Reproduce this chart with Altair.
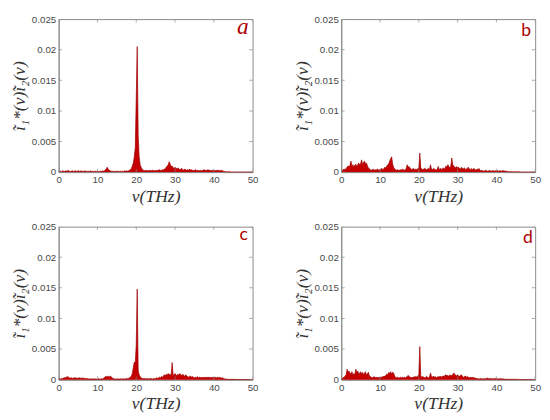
import altair as alt
import pandas as pd

# frequency step of the sampled spectra (THz)
X_STEP = 0.25

# spectra values in units of 1e-4, sampled every 0.25 THz from 0 to 50 THz
panel_a = [
    0.5, 1, 1.5, 1, 2, 1.5, 1, 2, 1.5, 2, 2.5, 1.5, 1, 1.5, 2, 1, 1.5, 2, 1.5, 1,
    2.5, 1.5, 1, 2, 1.5, 1, 1.5, 2, 1, 1.5, 1, 1.5, 1, 2, 1, 1.5, 1, 1, 1.5, 1,
    1.5, 1, 1, 1.5, 1, 2, 1.5, 2, 3, 5, 8, 5, 3, 2, 1.5, 1, 1.5, 1, 1, 1.5,
    1, 1.5, 1, 1, 1.5, 1, 1.5, 1, 2, 1.5, 2, 1.5, 2, 3, 4, 6, 10, 15, 25, 40,
    120, 205, 60, 25, 12, 8, 5, 3, 2.5, 2, 3, 2, 2.5, 2, 3, 2, 2.5, 3, 2, 2.5,
    2, 3, 2.5, 3, 4, 2.5, 3, 4, 3, 5, 6, 8, 10, 12, 17, 13, 9, 10, 7, 6,
    8, 6, 5, 7, 5, 4, 5, 6, 4, 3, 5, 4, 3, 4, 3, 5, 3, 4, 3, 2.5,
    3, 4, 2.5, 3, 2, 2.5, 3, 2, 2.5, 3, 4, 3, 2.5, 3, 4, 3, 2.5, 3, 2, 3,
    2.5, 3, 2, 3, 2.5, 3, 2, 2.5, 3, 2, 1.5, 1, 1, 0.5, 0.5, 0.5, 0.5, 0.5, 0.3, 0.3,
    0.3, 0.3, 0.3, 0.3, 0.3, 0.3, 0.3, 0.3, 0.3, 0.3, 0.3, 0.3, 0.3, 0.3, 0.3, 0.3, 0.3, 0.3, 0.3, 0.3,
    0.3,
]
panel_b = [
    0.5, 2, 4, 5, 4, 6, 8, 10, 9, 11, 18, 10, 12, 8, 11, 13, 9, 12, 15, 11,
    14, 20, 12, 16, 18, 13, 15, 10, 7, 5, 4, 3, 4, 5, 3, 4, 3, 5, 4, 3,
    4, 5, 6, 4, 6, 8, 7, 10, 12, 14, 18, 22, 25, 13, 8, 5, 4, 3, 4, 3,
    3, 4, 3, 5, 4, 3, 4, 6, 12, 8, 9, 6, 5, 4, 6, 5, 4, 5, 4, 6,
    6, 31, 7, 5, 4, 5, 6, 5, 4, 5, 6, 4, 12, 5, 4, 6, 5, 4, 3, 5,
    9, 4, 6, 5, 4, 7, 5, 6, 10, 8, 12, 9, 7, 10, 23, 12, 10, 8, 7, 9,
    7, 8, 6, 5, 8, 6, 5, 7, 4, 5, 6, 8, 5, 4, 6, 4, 5, 6, 4, 3,
    5, 4, 6, 3, 2, 3, 2, 1.5, 2, 3, 2, 1.5, 2, 2.5, 2, 1.5, 2, 2.5, 1.5, 2,
    2, 2.5, 1.5, 2, 2, 1.5, 2, 2.5, 1.5, 2, 1.5, 1, 1, 0.5, 0.5, 0.5, 0.5, 0.5, 0.5, 0.5,
    0.5, 0.5, 0.5, 0.5, 0.5, 0.3, 0.3, 0.3, 0.3, 0.3, 0.3, 0.3, 0.3, 0.3, 0.3, 0.3, 0.3, 0.3, 0.3, 0.3,
    0.3,
]
panel_c = [
    1, 1.5, 1, 2, 2, 2.5, 3, 3.5, 4, 5, 4, 3, 2.5, 3, 2, 2.5, 3, 2.5, 3, 2,
    2.5, 3, 2.5, 2, 3, 2, 2.5, 2, 1.5, 2, 1.5, 1, 1.5, 1, 1.5, 1, 1, 1.5, 1, 1,
    1, 1.5, 1, 1, 1.5, 1, 2, 3, 5, 4, 6, 5, 4, 6, 5, 3, 2, 1.5, 1, 1,
    1, 1.5, 1, 1, 1.5, 1, 1, 1.5, 1, 1.5, 2, 1.5, 2, 3, 4, 6, 10, 20, 29, 27,
    57, 148, 15, 8, 5, 3, 2, 1.5, 2, 1.5, 1, 2, 1.5, 1, 1.5, 2, 1.5, 1, 2, 1.5,
    2, 3, 2, 3, 4, 3, 5, 4, 6, 8, 6, 9, 7, 10, 8, 9, 6, 28, 8, 7,
    10, 8, 6, 9, 7, 10, 8, 6, 9, 7, 5, 8, 6, 5, 4, 5, 6, 4, 5, 4,
    3, 4, 3, 5, 3, 4, 3, 4, 3, 4, 3, 4, 3, 4, 3.5, 4, 3, 4, 3, 4,
    3, 4, 3.5, 3, 4, 3, 4, 3, 2.5, 3, 2, 1.5, 1, 1, 0.5, 0.5, 0.5, 0.5, 0.5, 0.5,
    0.5, 0.5, 0.3, 0.3, 0.3, 0.3, 0.3, 0.3, 0.3, 0.3, 0.3, 0.3, 0.3, 0.3, 0.3, 0.3, 0.3, 0.3, 0.3, 0.3,
    0.3,
]
panel_d = [
    1, 2, 3, 4, 6, 8, 17, 12, 14, 11, 9, 13, 7, 10, 8, 17, 12, 14, 9, 11,
    13, 9, 12, 8, 11, 13, 7, 10, 12, 6, 5, 4, 3, 4, 5, 3, 4, 3, 4, 3,
    4, 3, 5, 4, 6, 5, 7, 9, 8, 12, 10, 13, 9, 12, 11, 6, 4, 3, 4, 3,
    3, 4, 3, 4, 3, 4, 3, 4, 5, 7, 5, 4, 3, 4, 3, 5, 4, 5, 4, 6,
    8, 54, 6, 4, 5, 4, 3, 4, 5, 4, 3, 4, 11, 5, 4, 6, 4, 5, 3, 4,
    5, 4, 6, 4, 5, 6, 5, 7, 8, 6, 7, 5, 8, 6, 7, 8, 11, 9, 7, 6,
    8, 6, 5, 7, 8, 5, 4, 5, 6, 4, 5, 4, 3, 4, 3, 4, 3, 3, 2.5, 2,
    2, 1.5, 1, 1.5, 2, 1, 1.5, 1, 2, 1.5, 2, 2.5, 1.5, 2, 1.5, 2, 1, 1.5, 2, 1.5,
    2, 1.5, 1, 1.5, 2, 1, 1.5, 1, 1, 0.5, 0.5, 0.5, 0.5, 0.5, 0.5, 0.5, 0.5, 0.5, 0.5, 0.5,
    0.5, 0.5, 0.3, 0.3, 0.3, 0.3, 0.3, 0.3, 0.3, 0.3, 0.3, 0.3, 0.3, 0.3, 0.3, 0.3, 0.3, 0.3, 0.3, 0.3,
    0.3,
]

x_ticks = [0, 10, 20, 30, 40, 50]
y_ticks = [0, 0.005, 0.01, 0.015, 0.02, 0.025]
letters = ["a", "b", "c", "d"]

RED = "#c40000"
DARK = "#9a0000"
GRAY = "#8a8a8a"

AX_COMMON = dict(labelOverlap=False, labelFlush=False, ticks=False, grid=False,
                 labelPadding=3, titlePadding=3)


def make_panel(vals, letter, lx, ly, serif):
    df = pd.DataFrame({
        "nu": [i * X_STEP for i in range(len(vals))],
        "v": [v * 1e-4 for v in vals],
    })
    xenc = alt.X("nu:Q", scale=alt.Scale(domain=[0, 50], nice=False, zero=False),
                 axis=alt.Axis(values=x_ticks, title="ν(THz)", format="d", tickCount=6, **AX_COMMON))
    yenc = alt.Y("v:Q", scale=alt.Scale(domain=[0, 0.025], nice=False),
                 axis=alt.Axis(values=y_ticks, title="ĩ₁*(ν)ĩ₂(ν)", format="~g", tickCount=6, **AX_COMMON))
    base = alt.Chart(df)
    area = base.mark_area(color=RED, interpolate="linear").encode(x=xenc, y=yenc)
    line = base.mark_line(color=DARK, strokeWidth=0.7, interpolate="linear").encode(
        x=xenc, y=yenc)

    # inward tick marks on all four sides (clipped to the plot area)
    xt = pd.DataFrame({"nu": x_ticks * 2,
                       "v": [y_ticks[0]] * len(x_ticks) + [y_ticks[-1]] * len(x_ticks)})
    yt = pd.DataFrame({"nu": [x_ticks[0]] * len(y_ticks) + [x_ticks[-1]] * len(y_ticks),
                       "v": y_ticks * 2})
    xtick = alt.Chart(xt).mark_tick(orient="vertical", size=7, thickness=1,
                                    color=GRAY, clip=True).encode(x=xenc, y=yenc)
    ytick = alt.Chart(yt).mark_tick(orient="horizontal", size=7, thickness=1,
                                    color=GRAY, clip=True).encode(x=xenc, y=yenc)

    lab_df = pd.DataFrame({"nu": [lx], "v": [ly], "t": [letter]})
    if serif:
        txt = alt.Chart(lab_df).mark_text(font="Liberation Serif", fontStyle="italic",
                                          fontSize=24, color="#b00000")
    else:
        txt = alt.Chart(lab_df).mark_text(font="Lato", fontSize=18, color="#b00000")
    txt = txt.encode(x=xenc, y=yenc, text="t:N")
    return alt.layer(area, line, xtick, ytick, txt).properties(width=199, height=157)


pa = make_panel(panel_a, letters[0], 47.5, 0.0236, True)
pb = make_panel(panel_b, letters[1], 47.7, 0.0230, False)
pc = make_panel(panel_c, letters[2], 47.7, 0.0236, False)
pd_ = make_panel(panel_d, letters[3], 48.1, 0.0231, False)

chart = alt.vconcat(
    alt.hconcat(pa, pb, spacing=34),
    alt.hconcat(pc, pd_, spacing=34),
    spacing=15,
).properties(
    padding={"left": 2, "top": 0, "right": 0, "bottom": 0}
).configure_view(
    stroke=GRAY, strokeWidth=1
).configure_axis(
    labelFont="Liberation Sans", labelFontSize=10, labelColor="#4a4a4a",
    domainColor=GRAY,
    titleFont="Liberation Serif", titleFontStyle="italic", titleFontWeight="normal",
    titleFontSize=18, titleColor="#333333",
)

chart.save("out.html", embed_options={"renderer": "svg", "actions": False})
